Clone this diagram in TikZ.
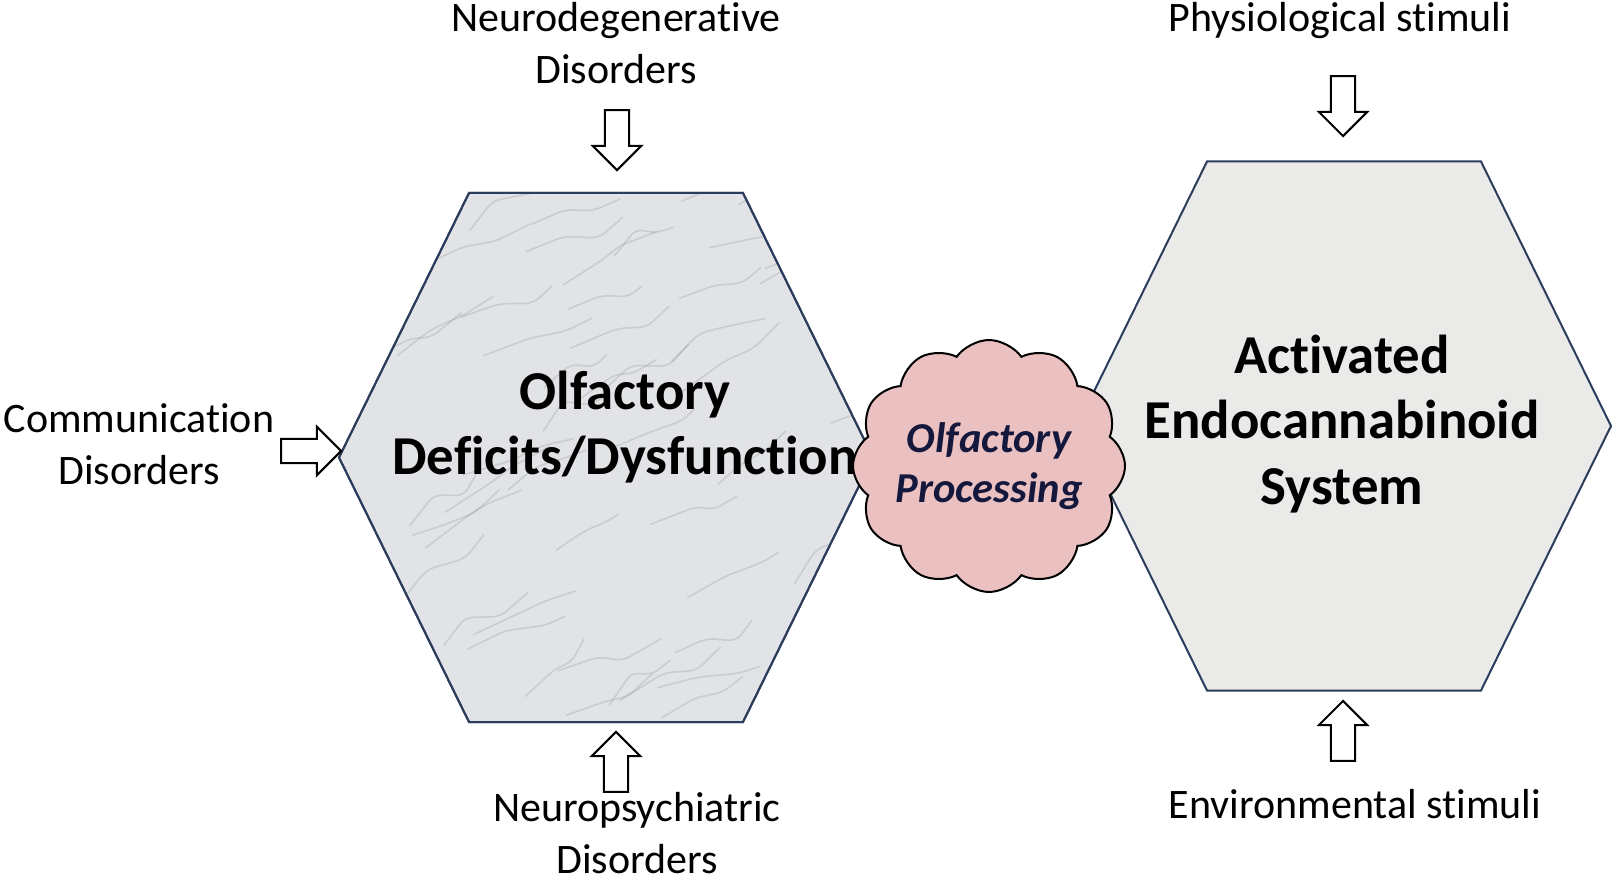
\documentclass[tikz,border=0pt]{standalone}
\usepackage{fontspec}
\setmainfont{Carlito}[Ligatures=NoCommon]
\usetikzlibrary{shapes.symbols}
\usetikzlibrary{shapes.arrows}
\definecolor{hexline}{RGB}{44,60,92}
\definecolor{marble}{RGB}{226,227,230}
\definecolor{vein}{RGB}{150,152,158}
\definecolor{speckle}{RGB}{234,234,233}
\definecolor{cloudpink}{RGB}{234,192,192}
\definecolor{cloudtext}{RGB}{20,24,60}
\tikzset{
  every picture/.style={x=0.5pt, y=-0.5pt},
  hexagon/.pic={
    \path[pic actions] (-267,0) -- (-137,-264.5) -- (137,-264.5)
      -- (267,0) -- (137,264.5) -- (-137,264.5) -- cycle;}}

\begin{document}
\begin{tikzpicture}[
    outer/.style={align=center, font=\fontsize{21}{26}\selectfont, inner sep=0pt},
    hextext/.style={align=center, font=\bfseries\fontsize{27.4}{32.8}\selectfont, inner sep=0pt},
    blockarrow/.style={draw, single arrow, fill=white, line width=1pt,
      minimum height=30pt, inner sep=5.6pt, single arrow head extend=6pt}]

    \useasboundingbox (0,0) rectangle (1612,882);

    \pic[draw=hexline, fill=marble, line width=1pt] at (606,457.5) {hexagon};
    % marble veins
    \begin{scope}
      \clip (339,457.5) -- (469,193) -- (743,193) -- (873,457.5)
        -- (743,722) -- (469,722) -- cycle;
      \pgfmathsetseed{7}
      \foreach \i in {1,...,60} {
        \pgfmathsetmacro{\vx}{339+rnd*534}
        \pgfmathsetmacro{\vy}{193+rnd*529}
        \draw[vein, opacity=0.3, line width=0.8pt, line cap=round, rounded corners=4pt]
          (\vx,\vy) -- ++(20+rnd*30,-10-rnd*25) -- ++(15+rnd*25,5-rnd*20)
          -- ++(10+rnd*30,-5-rnd*20);
      }
    \end{scope}
    \pic[draw=hexline, line width=1pt] at (606,457.5) {hexagon};
    \pic[draw=hexline, fill=speckle, line width=1pt] at (1344,426) {hexagon};

    \node[hextext] (OD) at (625,427) {Olfactory\\Deficits/Dysfunction};
    \node[hextext] (EC) at (1342,424) {Activated\\Endocannabinoid\\System};

    \node[cloud, draw, fill=cloudpink, line width=1pt, cloud puffs=12,
      cloud puff arc=110, aspect=1.05, inner sep=-7pt, minimum width=136pt,
      minimum height=126pt, align=center, text=cloudtext,
      font=\bfseries\itshape\fontsize{21.3}{25}\selectfont]
      (OP) at (989,466) {Olfactory\\Processing};

    \node[outer] (ND) at (616,43) {Neurodegenerative\\Disorders};
    \node[outer] (CD) at (139,444) {Communication\\Disorders};
    \node[outer] (NP) at (637,833) {Neuropsychiatric\\Disorders};
    \node[outer] (PS) at (1340,21) {Physiological stimuli};
    \node[outer] (ES) at (1355,804) {Environmental stimuli};

    \node[blockarrow, shape border rotate=270] (NDa) at (617,134) {};
    \node[blockarrow, shape border rotate=0] (CDa) at (305,451) {};
    \node[blockarrow, shape border rotate=90] (NPa) at (616,768) {};
    \node[blockarrow, shape border rotate=270] (PSa) at (1343,100) {};
    \node[blockarrow, shape border rotate=90] (ESa) at (1343,737) {};
\end{tikzpicture}
\end{document}
